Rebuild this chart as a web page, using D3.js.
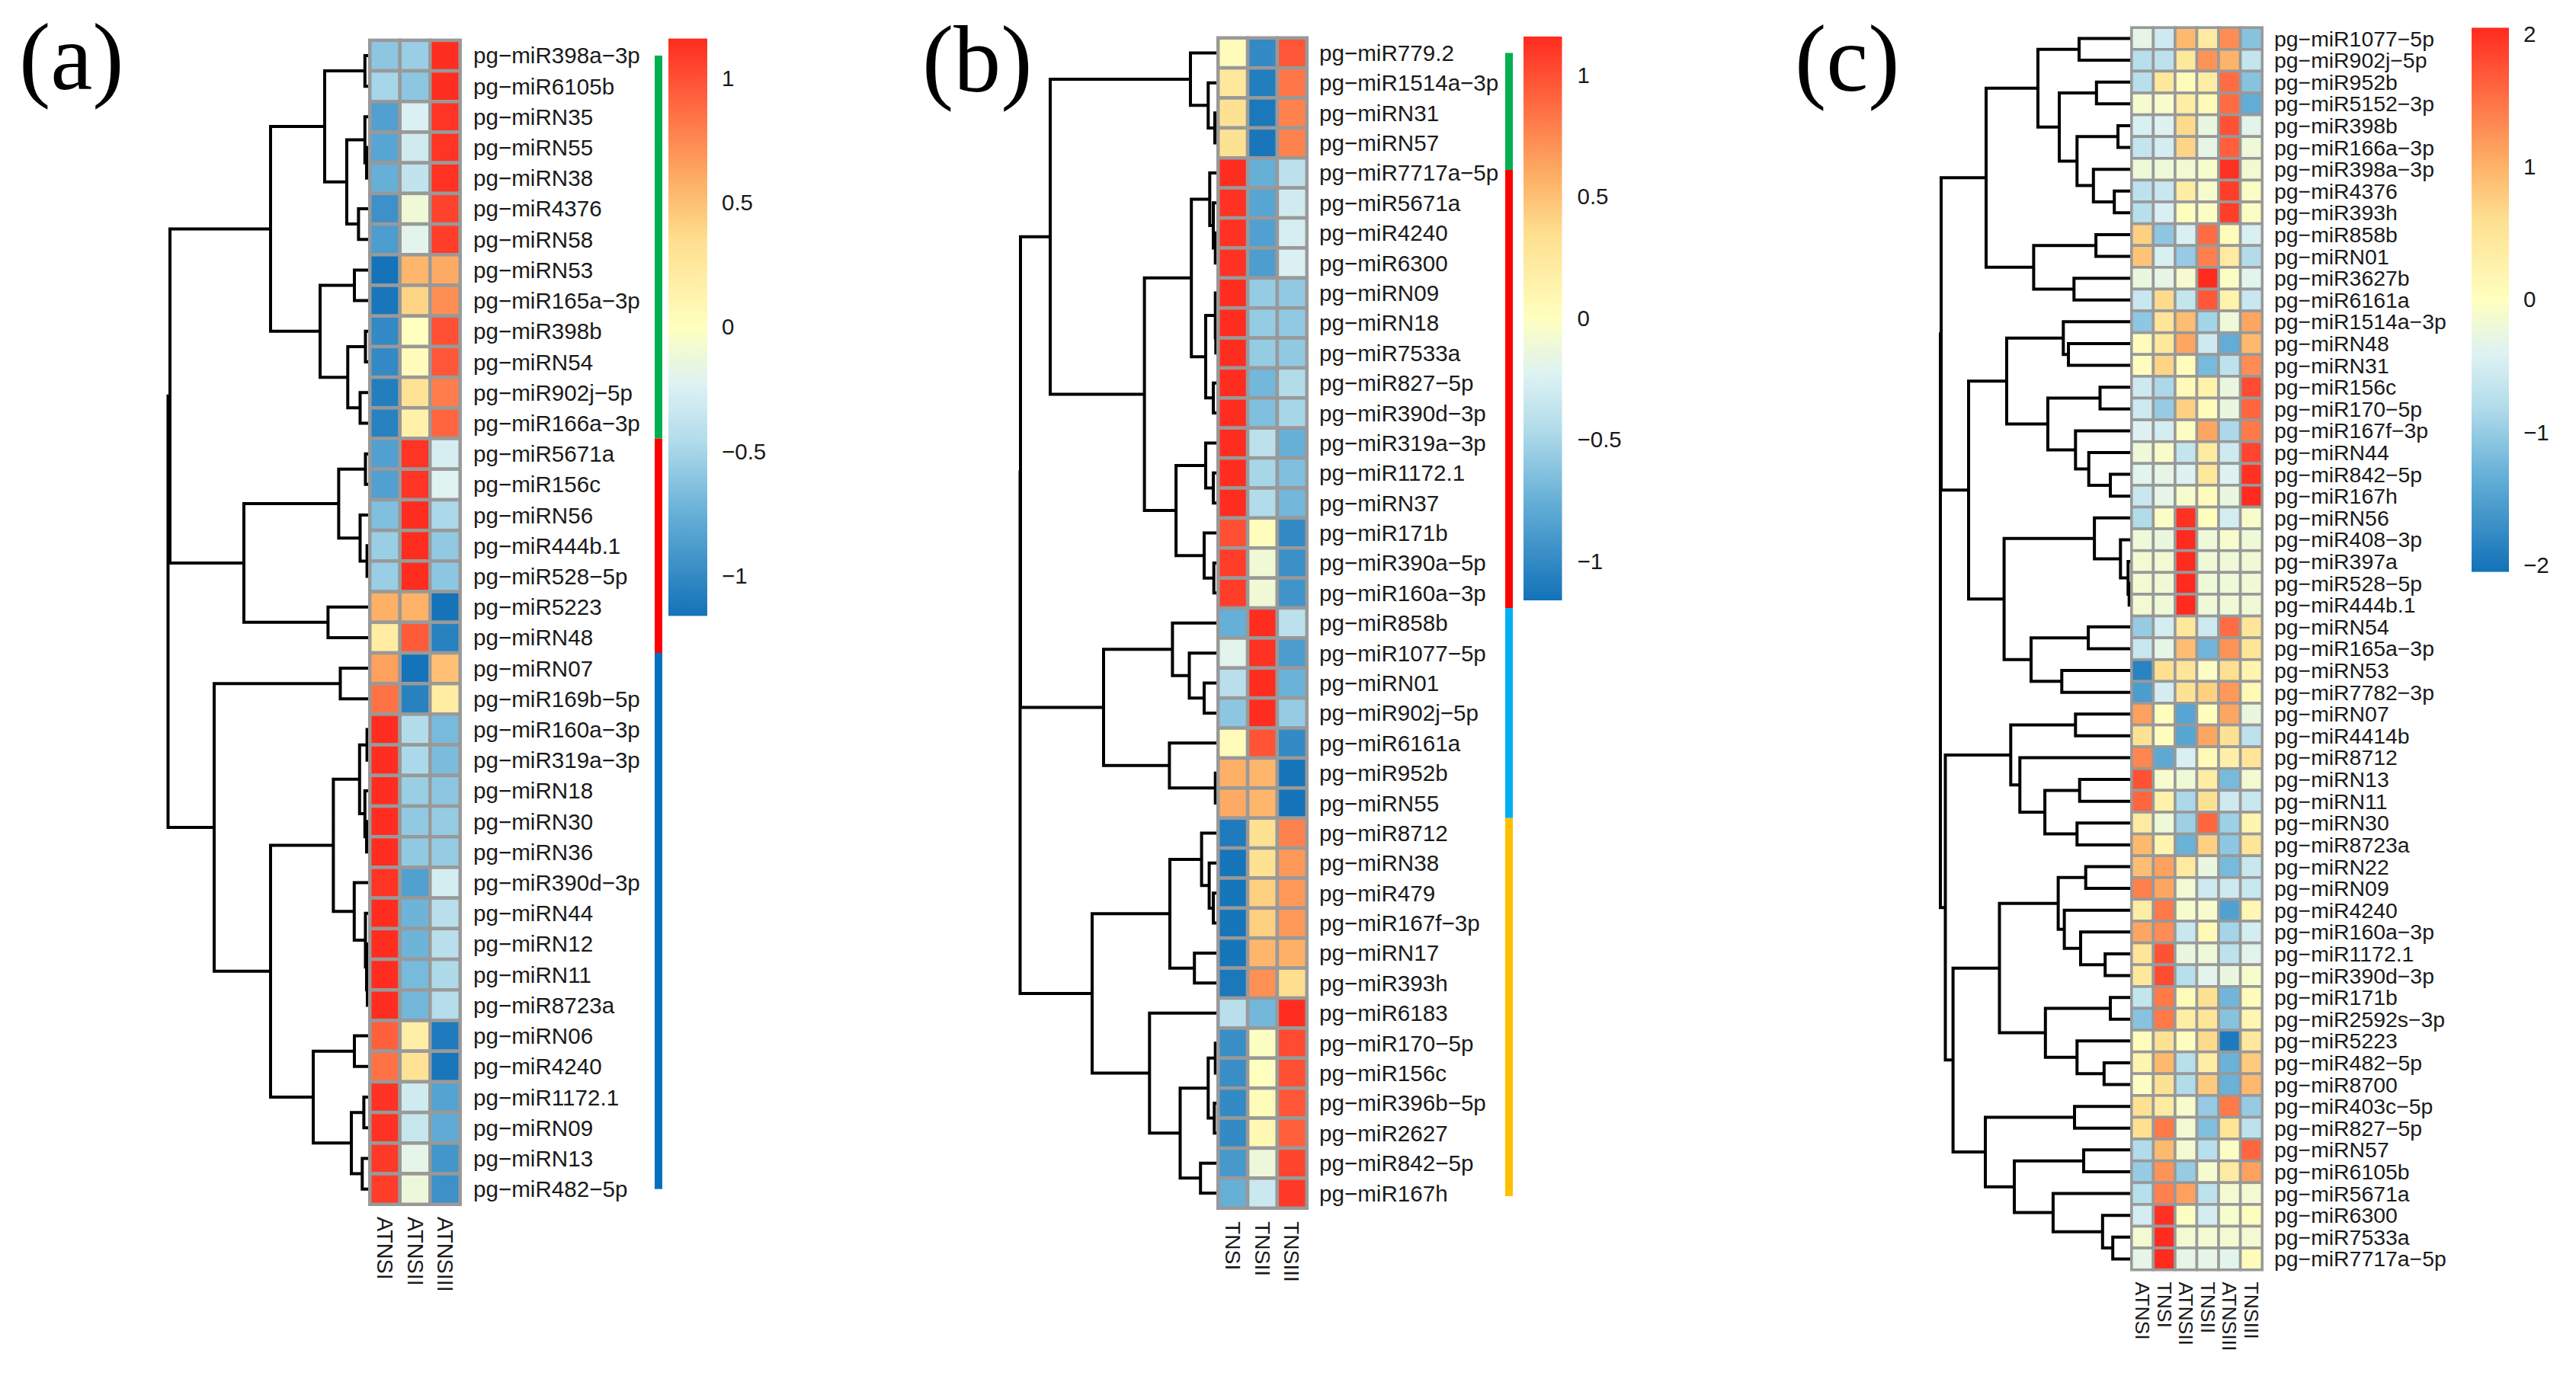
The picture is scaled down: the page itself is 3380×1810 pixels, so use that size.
<!DOCTYPE html>
<html>
<head>
<meta charset="utf-8">
<script src="https://cdn.jsdelivr.net/npm/d3@7.9.0/dist/d3.min.js"></script>
<style>
  body { margin: 0; background: #fff; }
  text { font-family: "Liberation Sans", Arial, sans-serif; fill: #1a1a1a; }
  .panel-tag { font-family: "Liberation Serif", serif; fill: #000; }
</style>
</head>
<body>
<div id="chart"></div>
<script>
// ---- panel (a) ----
const rowsA = ['pg−miR398a−3p','pg−miR6105b','pg−miRN35','pg−miRN55','pg−miRN38','pg−miR4376','pg−miRN58','pg−miRN53','pg−miR165a−3p','pg−miR398b','pg−miRN54','pg−miR902j−5p','pg−miR166a−3p','pg−miR5671a','pg−miR156c','pg−miRN56','pg−miR444b.1','pg−miR528−5p','pg−miR5223','pg−miRN48','pg−miRN07','pg−miR169b−5p','pg−miR160a−3p','pg−miR319a−3p','pg−miRN18','pg−miRN30','pg−miRN36','pg−miR390d−3p','pg−miRN44','pg−miRN12','pg−miRN11','pg−miR8723a','pg−miRN06','pg−miR4240','pg−miR1172.1','pg−miRN09','pg−miRN13','pg−miR482−5p'];
const colsA = ['ATNSI','ATNSII','ATNSIII'];
const valuesA = [
  [-.6,-.55,1.15],[-.5,-.6,1.15],[-.85,-.25,1.12],[-.82,-.3,1.12],[-.75,-.38,1.13],[-.95,-.1,1.06],[-.87,-.2,1.08],
  [-1.15,.55,.6],[-1.13,.4,.73],[-1,0,1],[-1,.03,.97],[-1.08,.3,.8],[-1.05,.15,.9],
  [-.85,1.12,-.27],[-.85,1.12,-.22],[-.65,1.15,-.48],[-.55,1.15,-.58],[-.55,1.15,-.6],[.58,.57,-1.15],[.2,.95,-1.05],
  [.65,-1.15,.5],[.85,-1.05,.2],[1.15,-.45,-.68],[1.15,-.48,-.67],[1.15,-.55,-.6],[1.15,-.58,-.57],[1.15,-.58,-.57],
  [1.12,-.85,-.28],[1.15,-.72,-.42],[1.15,-.72,-.42],[1.15,-.68,-.47],[1.15,-.7,-.44],[.93,.18,-1.1],[.85,.3,-1.13],
  [1.13,-.3,-.83],[1.13,-.35,-.78],[1.1,-.18,-.92],[1.08,-.12,-.95]
];
// dendrograms: [height, child, child], 0 is a leaf, leaves in row order
const treeA = [26.25,
  [26.0,
    [12.8,
      [5.7,[.42,0,0],[2.8,[.42,0,[.2,0,0]],[1.26,0,0]]],
      [6.3,[1.8,0,0],[2.67,[.35,0,0],[1.05,0,0]]]],
    [16.3,
      [3.86,[.35,0,0],[1.05,0,[.14,0,0]]],
      [5.26,0,0]]],
  [20.2,
    [3.65,0,0],
    [12.8,
      [4.56,
        [1.12,[.14,0,0],[.42,0,[.2,0,0]]],
        [1.82,0,[.35,0,[.2,0,[.1,0,0]]]]],
      [7.2,[1.8,0,0],[2.2,[.56,0,0],[.77,0,0]]]]]
];
const groupsA = [['#00B050',0,13],['#FF0000',13,20],['#0070C0',20,38]];

// ---- panel (b) ----
const rowsB = ['pg−miR779.2','pg−miR1514a−3p','pg−miRN31','pg−miRN57','pg−miR7717a−5p','pg−miR5671a','pg−miR4240','pg−miR6300','pg−miRN09','pg−miRN18','pg−miR7533a','pg−miR827−5p','pg−miR390d−3p','pg−miR319a−3p','pg−miR1172.1','pg−miRN37','pg−miR171b','pg−miR390a−5p','pg−miR160a−3p','pg−miR858b','pg−miR1077−5p','pg−miRN01','pg−miR902j−5p','pg−miR6161a','pg−miR952b','pg−miRN55','pg−miR8712','pg−miRN38','pg−miR479','pg−miR167f−3p','pg−miRN17','pg−miR393h','pg−miR6183','pg−miR170−5p','pg−miR156c','pg−miR396b−5p','pg−miR2627','pg−miR842−5p','pg−miR167h'];
const colsB = ['TNSI','TNSII','TNSIII'];
const valuesB = [
  [.03,-1,.97],[.25,-1.08,.83],[.32,-1.12,.78],[.32,-1.13,.78],[1.15,-.75,-.4],[1.13,-.82,-.3],[1.13,-.85,-.27],[1.13,-.87,-.25],
  [1.15,-.57,-.58],[1.15,-.57,-.58],[1.15,-.57,-.58],[1.15,-.7,-.45],[1.15,-.65,-.5],[1.15,-.4,-.75],[1.15,-.5,-.65],[1.15,-.45,-.7],
  [1,.02,-1],[1.08,-.1,-.96],[1.08,-.1,-.93],[-.75,1.15,-.4],[-.2,1.13,-.88],[-.42,1.15,-.73],[-.6,1.15,-.57],[.03,.98,-1],
  [.58,.55,-1.14],[.6,.55,-1.15],[-1.1,.33,.78],[-1.14,.33,.68],[-1.14,.42,.68],[-1.14,.42,.68],[-1.14,.55,.58],[-1.12,.72,.35],
  [-.42,-.7,1.15],[-.97,-.02,1.02],[-.97,0,1],[-1,.03,.97],[-1,.08,.93],[-.9,-.12,1.05],[-.75,-.33,1.1]
];
const treeB = [25.75,
  [25.7,
    [21.8,
      [3.4,0,[1.07,0,[.2,0,0]]],
      [9.44,
        [3.28,
          [.87,0,[.4,0,[.13,0,0]]],
          [1.4,[.13,0,[.07,0,0]],[.4,0,0]]],
        [5.29,[1.4,0,[.4,0,0]],[1.6,0,[.33,0,0]]]]],
    [14.8,
      [5.76,0,[3.55,0,[1.6,0,0]]],
      [6.16,0,[.13,0,0]]]],
  [16.3,
    [6.1,[1.94,0,[.94,0,[.4,0,0]]],[2.88,0,0]],
    [8.77,0,[4.75,[1.07,[.13,0,0],[.27,0,0]],[2.08,0,0]]]]
];
const groupsB = [['#00B050',0,4.4],['#FF0000',4.4,19],['#00B0F0',19,26],['#FFC000',26,38.6]];

// ---- panel (c) ----
const rowsC = ['pg−miR1077−5p','pg−miR902j−5p','pg−miR952b','pg−miR5152−3p','pg−miR398b','pg−miR166a−3p','pg−miR398a−3p','pg−miR4376','pg−miR393h','pg−miR858b','pg−miRN01','pg−miR3627b','pg−miR6161a','pg−miR1514a−3p','pg−miRN48','pg−miRN31','pg−miR156c','pg−miR170−5p','pg−miR167f−3p','pg−miRN44','pg−miR842−5p','pg−miR167h','pg−miRN56','pg−miR408−3p','pg−miR397a','pg−miR528−5p','pg−miR444b.1','pg−miRN54','pg−miR165a−3p','pg−miRN53','pg−miR7782−3p','pg−miRN07','pg−miR4414b','pg−miR8712','pg−miRN13','pg−miRN11','pg−miRN30','pg−miR8723a','pg−miRN22','pg−miRN09','pg−miR4240','pg−miR160a−3p','pg−miR1172.1','pg−miR390d−3p','pg−miR171b','pg−miR2592s−3p','pg−miR5223','pg−miR482−5p','pg−miR8700','pg−miR403c−5p','pg−miR827−5p','pg−miRN57','pg−miR6105b','pg−miR5671a','pg−miR6300','pg−miR7533a','pg−miR7717a−5p'];
const colsC = ['ATNSI','TNSI','ATNSII','TNSII','ATNSIII','TNSIII'];
const valuesC = [
  [-.3,-.55,.95,.4,1.3,-1.1],[-.75,-.7,.45,1.25,1,-.65],[-.75,.45,.05,.35,1.55,-1.1],[-.12,-.1,.35,.1,1.55,-1.35],
  [-.45,-.4,.65,-.25,1.75,-.35],[-.65,-.5,.7,-.3,1.65,-.2],[-.2,-.2,-.15,-.1,2,-.15],[-.7,-.6,.35,-.1,1.9,-.05],
  [-.75,-.45,.02,-.05,1.9,-.05],[.75,-1.05,-.45,1.55,.05,-.45],[.85,-.45,-1,1.4,.4,-.8],[-.25,-.3,-.12,2.05,-.05,-.35],
  [-.6,.65,-.65,1.7,.25,-.6],[-1.05,.5,.9,-.9,-.2,1.1],[.05,.45,1.1,-.55,-1.35,.95],[.03,.7,.03,-1.2,-.7,1.3],
  [-.55,-.85,.1,.25,-.25,1.8],[-.55,-1,.75,.05,-.25,1.6],[-.4,-.5,-.02,1.1,-.85,1.45],[-.2,-.08,-.65,.4,-.55,1.85],
  [-.35,-.3,-.4,.45,-.4,2],[-.6,-.3,-.1,.05,-.25,2.05],[-.8,-.05,2,.02,-.5,-.08],[-.2,-.25,2.05,-.2,-.1,-.2],
  [-.15,-.15,2.05,-.2,-.2,-.18],[-.15,-.18,2.05,-.2,-.2,-.18],[-.15,-.2,2.05,-.2,-.2,-.18],[-1,-.5,.45,-.55,1.55,.5],
  [-.6,-.3,.9,-1.25,1.25,.5],[-1.85,.6,.5,-.05,.6,.2],[-1.55,-.5,.55,.75,1.2,.12],[1.15,.02,-1.45,.02,1.1,-.25],
  [.55,.02,-1.45,1.1,.55,-.7],[1.35,-1.4,-.45,.1,.3,.5],[1.75,-.1,-.2,.35,-1.2,-.15],[1.6,.25,-.85,.55,-.55,-.6],
  [.4,-.2,-.95,1.6,-.95,.2],[.95,.2,-1.3,.75,-1.05,.5],[.9,1.15,.4,-.25,-1.2,-.6],[1.4,1.1,-.15,-.55,-.55,-.6],
  [.35,1.45,-.1,-.1,-1.5,.15],[1.1,1.3,-.6,.1,-.9,-.5],[.5,1.75,-.25,-.2,-.7,-.35],[.45,1.8,-.75,-.35,-.25,-.1],
  [-.65,1.45,.08,.55,-1.25,.05],[-1.1,1.45,.35,.5,-1.1,.18],[.03,.55,.03,.65,-1.95,.45],[.2,.95,-.75,.35,-1.3,.8],
  [-.02,.55,-.8,.8,-1.3,.95],[.55,.4,-.1,-1,1.45,-1],[.6,1.45,-.15,-1.15,.5,-.7],[-.8,.95,-.15,-.75,-.05,1.6],
  [-1,1.25,-1,-.12,.4,1.15],[-.75,1.4,1.15,-.7,-.15,-.15],[-.5,2,-.02,-.5,-.1,.03],[-.15,2.05,-.15,-.15,-.15,-.15],
  [-.3,2.05,-.3,-.3,-.35,.05]
];
const treeC = [24.9,
  [24.8,
    [18.9,
      [12.1,[6.7,0,0],[9.3,[4.42,0,0],[6.97,[1.6,0,0],[4.82,0,[2.08,0,0]]]]],
      [12.66,[4.49,0,0],[7.37,0,0]]],
    [21.2,
      [16.2,
        [8.77,0,[8.1,0,0]],
        [10.8,[3.95,0,0],[7.17,0,[5.43,0,[2.6,0,0]]]]],
      [16.54,
        [4.69,0,[1.27,0,[.27,0,[.13,0,0]]]],
        [13,[5.49,0,0],[8.97,0,0]]]]],
  [24.25,
    [15.67,[7.17,0,0],[14.47,0,[11.19,[6.63,0,0],[6.97,0,0]]]],
    [23.24,
      [17.15,
        [9.44,[5.83,0,0],[8.64,0,[6.5,0,[3.28,0,0]]]],
        [11.12,[2.6,0,0],[6.97,0,[3.42,0,0]]]],
      [19,[7.3,0,0],[15.2,[6.1,0,0],[10.11,0,[3.62,0,[2.28,0,0]]]]]]]
];

const ticksAB = [-1,-.5,0,.5,1];
const ticksC = [-2,-1,0,1,2];

// colour ramp, position along the bar (0 bottom, 1 top)
const rampPos = [0,.17,.3,.4,.5,.65,.75,.87,1];
const rampCol = ['#1372B8','#62ADD6','#B0DBEA','#DDF2F3','#FFFFBF','#FEDF8F','#FDB066','#FF7045','#FF2B1F'];
const ramp = d3.scaleLinear().domain(rampPos).range(rampCol).interpolate(d3.interpolateRgb);

const svg = d3.select('#chart').append('svg')
  .attr('width', 3380).attr('height', 1810)
  .attr('viewBox', '0 0 3380 1810')
  .style('display', 'block');
const defs = svg.append('defs');

function drawPanel(p) {
  const g = svg.append('g');
  const sw = p.cellStroke;

  const xCol = d3.scaleBand().domain(p.cols).range([p.heat[0] + sw / 2, p.heat[1] - sw / 2]);
  const yRow = d3.scaleBand().domain(p.rows).range([p.heat[2] + sw / 2, p.heat[3] - sw / 2]);
  const yIdx = i => yRow(p.rows[0]) + i * yRow.step();
  const hScale = d3.scaleLinear().domain([0, p.tree[0]]).range([p.heat[0], p.rootX]);

  // dendrogram first, the heatmap border sits on top of the leaf ends
  const path = d3.path();
  let leaf = 0;
  function walk(node) {
    if (node === 0) {
      const y = yRow(p.rows[leaf++]) + yRow.bandwidth() / 2;
      return { x: p.heat[0], y };
    }
    const a = walk(node[1]);
    const b = walk(node[2]);
    const x = hScale(node[0]);
    path.moveTo(a.x, a.y);
    path.lineTo(x, a.y);
    path.lineTo(x, b.y);
    path.lineTo(b.x, b.y);
    return { x, y: (a.y + b.y) / 2 };
  }
  walk(p.tree);
  g.append('path')
    .attr('d', path.toString())
    .attr('fill', 'none')
    .attr('stroke', '#000')
    .attr('stroke-width', 4);

  // cells
  const norm = d3.scaleLinear().domain(p.domain).range([0, 1]).clamp(true);
  const cells = p.values.flatMap((row, i) => row.map((v, j) => ({ row: p.rows[i], col: p.cols[j], v })));
  g.append('g').selectAll('rect')
    .data(cells)
    .join('rect')
    .attr('x', d => xCol(d.col))
    .attr('y', d => yRow(d.row))
    .attr('width', xCol.bandwidth())
    .attr('height', yRow.bandwidth())
    .attr('fill', d => ramp(norm(d.v)))
    .attr('stroke', '#999')
    .attr('stroke-width', sw);

  // row labels
  g.append('g').selectAll('text')
    .data(p.rows)
    .join('text')
    .attr('x', p.labelX)
    .attr('y', d => yRow(d) + yRow.bandwidth() / 2)
    .attr('dominant-baseline', 'central')
    .attr('font-size', p.fontSize)
    .text(d => d);

  // column labels, rotated
  g.append('g').selectAll('text')
    .data(p.cols)
    .join('text')
    .attr('transform', d => `translate(${xCol(d) + xCol.bandwidth() / 2},${p.colLabelY}) rotate(90)`)
    .attr('dominant-baseline', 'central')
    .attr('font-size', p.colFontSize)
    .text(d => d);

  // group bars beside the labels
  if (p.groups) {
    g.append('g').selectAll('rect')
      .data(p.groups)
      .join('rect')
      .attr('x', p.groupX[0])
      .attr('width', p.groupX[1] - p.groupX[0])
      .attr('y', d => yIdx(d[1] === 0 ? .5 : d[1]))
      .attr('height', d => yIdx(d[2] === p.rows.length ? p.rows.length - .5 : d[2]) - yIdx(d[1] === 0 ? .5 : d[1]))
      .attr('fill', d => d[0]);
  }

  // colour bar
  const gradId = 'grad-' + p.tag[1];
  const grad = defs.append('linearGradient').attr('id', gradId)
    .attr('x1', 0).attr('y1', 1).attr('x2', 0).attr('y2', 0);
  grad.selectAll('stop').data(rampPos).join('stop')
    .attr('offset', d => d)
    .attr('stop-color', d => ramp(d));
  g.append('rect')
    .attr('x', p.barX[0]).attr('y', p.barY[0])
    .attr('width', p.barX[1] - p.barX[0])
    .attr('height', p.barY[1] - p.barY[0])
    .attr('fill', `url(#${gradId})`);

  const yBar = d3.scaleLinear().domain(p.domain).range([p.barY[1], p.barY[0]]);
  const axis = g.append('g')
    .attr('transform', `translate(${p.barX[1]},0)`)
    .call(d3.axisRight(yBar).tickValues(p.ticks).tickSize(0).tickPadding(p.barPad)
      .tickFormat(d => String(d).replace('-', '−')));
  axis.select('.domain').remove();
  axis.selectAll('text')
    .attr('font-size', p.barFont)
    .attr('font-family', '"Liberation Sans", Arial, sans-serif')
    .attr('fill', '#1a1a1a');

  // panel tag
  svg.append('text')
    .attr('class', 'panel-tag')
    .attr('x', p.tagPos[0]).attr('y', p.tagPos[1])
    .attr('font-size', p.tagSize)
    .text(p.tag);
}

drawPanel({
  tag: '(a)', tagPos: [25, 117], tagSize: 124,
  rows: rowsA, cols: colsA, values: valuesA, tree: treeA, groups: groupsA,
  domain: [-1.16, 1.16], ticks: ticksAB,
  heat: [483, 606, 50.6, 1583], cellStroke: 4.5, rootX: 220.5,
  labelX: 621, fontSize: 29.6, colLabelY: 1597, colFontSize: 28.8,
  groupX: [859, 869], barX: [877, 928], barY: [50.6, 808.4], barPad: 19, barFont: 29.5
});
drawPanel({
  tag: '(b)', tagPos: [1210, 120], tagSize: 124,
  rows: rowsB, cols: colsB, values: valuesB, tree: treeB, groups: groupsB,
  domain: [-1.16, 1.16], ticks: ticksAB,
  heat: [1596, 1717, 47.5, 1588], cellStroke: 4.5, rootX: 1338.5,
  labelX: 1731, fontSize: 29.6, colLabelY: 1603, colFontSize: 28.2,
  groupX: [1975, 1985], barX: [1999, 2049.5], barY: [48, 788], barPad: 20, barFont: 29.5
});
drawPanel({
  tag: '(c)', tagPos: [2355, 118.6], tagSize: 124,
  rows: rowsC, cols: colsC, values: valuesC, tree: treeC,
  domain: [-2.05, 2.05], ticks: ticksC,
  heat: [2795, 2970, 34.4, 1668.5], cellStroke: 3.6, rootX: 2546,
  labelX: 2984, fontSize: 28.4, colLabelY: 1682.5, colFontSize: 26.5,
  barX: [3243, 3292], barY: [36.4, 750.6], barPad: 19, barFont: 29.5
});
</script>
</body>
</html>
